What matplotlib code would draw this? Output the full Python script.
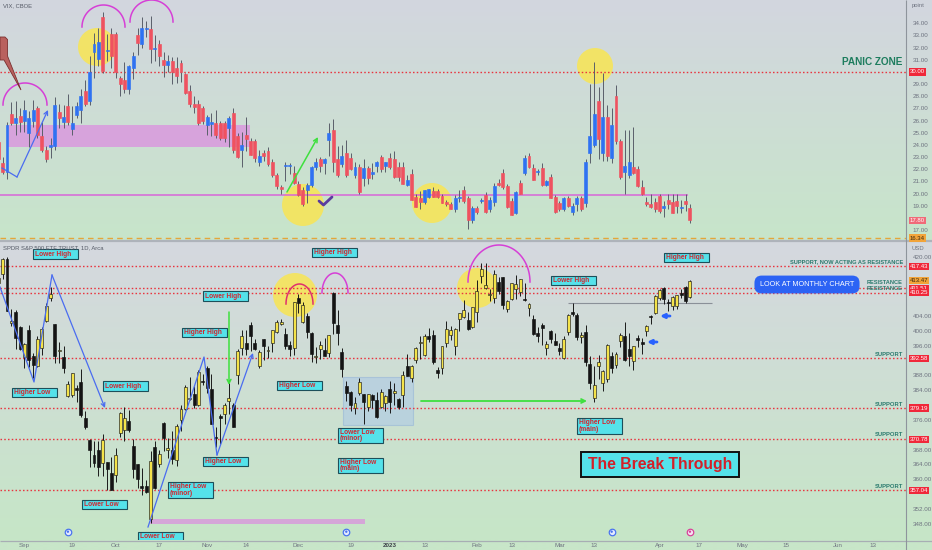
import numpy as np
import pandas as pd
import matplotlib
matplotlib.use("Agg")
import matplotlib.pyplot as plt
from matplotlib.patches import Ellipse, Rectangle, Polygon
from matplotlib.ticker import FormatStrFormatter
from matplotlib.colors import to_rgb

plt.rcParams['font.family'] = ['Liberation Sans', 'DejaVu Sans']

# ---------------- data ----------------
holidays = ["2022-09-05", "2022-11-24", "2022-12-26", "2023-01-02", "2023-01-16",
            "2023-02-20", "2023-04-07", "2023-05-29", "2023-06-19"]
first_day = "2022-08-24"
axis_end = "2023-06-30"

spy_open = [413.0, 415.2, 419.4, 402.2, 405.1, 401.1, 392.9, 400.3, 393.1, 390.4,
            395.4, 402.7, 408.8, 401.8, 394.5, 392.9, 382.3, 382.8, 384.7, 386.1,
            376.6, 370.6, 366.4, 367.8, 364.4, 364.5, 361.8, 361.1, 372.4, 373.2,
            375.6, 369.0, 364.0, 358.2, 358.2, 349.2, 368.6, 364.0, 375.1, 367.8,
            368.0, 365.1, 375.9, 378.8, 381.6, 383.1, 379.9, 386.4, 390.1, 384.4,
            371.5, 377.1, 377.7, 381.1, 379.9, 388.0, 395.4, 396.7, 401.5, 396.8,
            390.5, 397.7, 394.6, 396.6, 399.6, 401.8, 399.1, 396.1, 395.5, 408.8,
            402.3, 404.0, 399.4, 392.9, 395.1, 394.9, 394.1, 410.2, 401.6, 394.3,
            385.2, 383.5, 379.2, 383.3, 383.0, 379.6, 382.8, 381.3, 379.6, 380.6,
            384.4, 383.2, 381.7, 382.6, 390.4, 387.3, 392.2, 396.7, 393.6, 398.5,
            399.0, 389.4, 390.1, 396.7, 398.9, 396.0, 403.1, 403.7, 402.8, 401.1,
            405.2, 414.9, 411.6, 409.8, 408.9, 413.1, 414.4, 405.9, 408.7, 411.2,
            410.4, 408.7, 406.1, 403.1, 399.5, 401.6, 395.4, 399.9, 397.2, 395.4,
            392.7, 399.7, 405.1, 404.4, 398.4, 399.7, 391.0, 381.8, 390.5, 385.9,
            387.1, 393.2, 390.8, 397.2, 398.7, 395.1, 391.8, 398.1, 397.0, 399.9,
            404.1, 404.7, 408.9, 411.6, 407.9, 406.8, 406.6, 410.3, 411.9, 409.2]
spy_high = [415.9, 419.6, 419.9, 405.8, 405.6, 401.4, 396.8, 401.6, 394.1, 398.6,
            401.0, 407.5, 411.7, 401.9, 396.9, 395.9, 386.4, 388.6, 385.3, 389.6,
            378.3, 370.9, 370.2, 370.4, 372.3, 364.6, 365.9, 368.5, 378.0, 379.5,
            378.7, 370.9, 364.2, 363.0, 359.8, 367.5, 370.3, 368.0, 375.5, 371.2,
            373.0, 374.8, 380.1, 385.3, 387.6, 385.0, 389.5, 388.4, 390.4, 388.3,
            374.2, 377.7, 380.6, 386.7, 380.6, 395.0, 400.2, 400.1, 402.3, 397.8,
            394.9, 397.8, 395.8, 400.2, 402.9, 403.1, 400.8, 397.3, 407.7, 410.0,
            407.9, 404.9, 399.7, 395.6, 397.4, 398.0, 399.0, 410.5, 405.5, 395.3,
            386.6, 383.8, 382.2, 387.4, 383.1, 383.0, 383.1, 383.4, 384.4, 382.6,
            386.4, 385.9, 381.8, 389.3, 393.7, 390.7, 395.6, 398.5, 399.1, 400.8,
            400.1, 390.3, 396.0, 402.6, 401.2, 400.7, 404.9, 408.2, 405.1, 406.5,
            413.7, 418.3, 418.2, 411.3, 416.5, 414.5, 414.6, 408.4, 413.0, 415.1,
            414.1, 412.9, 407.5, 404.2, 401.1, 402.2, 397.3, 400.3, 399.3, 396.7,
            398.7, 404.5, 407.5, 404.7, 399.7, 401.5, 393.2, 390.4, 393.5, 389.5,
            396.5, 394.4, 394.2, 399.4, 402.5, 399.3, 395.8, 398.9, 398.1, 401.6,
            404.4, 409.7, 411.3, 411.9, 408.7, 409.5, 409.7, 411.2, 412.2, 413.8]
spy_low = [412.4, 414.1, 405.3, 401.2, 395.0, 394.9, 390.0, 390.3, 387.4, 390.2,
           393.6, 402.5, 408.1, 391.4, 391.4, 388.7, 382.1, 382.2, 380.7, 376.8,
           373.4, 363.3, 363.3, 360.9, 360.9, 357.2, 357.0, 359.2, 371.3, 370.2,
           372.8, 360.4, 357.7, 355.7, 356.4, 348.1, 357.3, 363.4, 367.5, 365.6,
           364.2, 363.5, 373.1, 378.7, 381.4, 379.3, 379.7, 385.3, 383.3, 374.8,
           368.8, 369.4, 375.0, 377.7, 374.0, 385.6, 393.4, 393.4, 394.5, 394.8,
           390.1, 392.2, 392.7, 394.2, 399.3, 401.5, 395.1, 393.3, 393.5, 404.8,
           402.0, 398.0, 391.6, 391.4, 392.5, 393.1, 392.9, 399.1, 396.3, 387.6,
           381.0, 378.3, 377.7, 382.7, 374.9, 378.4, 379.3, 376.4, 379.1, 378.4,
           377.8, 380.0, 378.8, 379.4, 387.7, 386.3, 391.4, 392.4, 393.3, 397.1,
           391.1, 387.3, 388.4, 395.7, 397.6, 393.6, 400.0, 403.4, 400.3, 400.8,
           402.3, 412.9, 411.2, 408.1, 407.6, 409.9, 405.8, 405.0, 408.2, 408.5,
           409.5, 408.1, 404.0, 399.0, 397.0, 396.3, 393.6, 396.8, 396.2, 393.4,
           392.3, 399.0, 404.0, 397.6, 396.8, 390.6, 384.3, 380.7, 387.1, 383.7,
           386.3, 388.6, 390.1, 395.6, 392.0, 390.4, 389.4, 395.6, 393.7, 398.7,
           401.8, 404.6, 408.4, 407.2, 405.4, 405.7, 405.9, 408.9, 407.4, 408.9]
spy_close = [414.2, 419.5, 405.3, 402.6, 398.2, 395.2, 396.4, 392.2, 390.8, 397.8,
             400.4, 406.6, 410.0, 393.1, 394.6, 389.9, 385.6, 388.6, 384.1, 377.4,
             374.2, 367.9, 364.3, 363.4, 370.5, 362.8, 357.2, 366.6, 377.8, 376.4,
             373.2, 362.8, 360.0, 357.7, 356.6, 365.0, 357.6, 366.8, 371.1, 368.5,
             365.4, 374.3, 378.9, 384.9, 382.0, 380.0, 389.0, 386.2, 384.5, 374.9,
             371.0, 376.4, 380.0, 382.0, 374.1, 394.7, 398.5, 395.1, 398.5, 395.2,
             394.2, 396.0, 394.6, 400.2, 402.4, 402.3, 395.9, 395.2, 407.7, 407.4,
             406.9, 399.6, 393.8, 393.2, 396.2, 393.3, 399.0, 402.0, 399.4, 389.6,
             383.3, 380.0, 380.5, 386.2, 380.7, 382.9, 381.4, 376.7, 383.4, 382.4,
             380.8, 383.8, 379.4, 388.1, 387.9, 390.6, 395.5, 397.0, 398.5, 397.8,
             391.5, 388.6, 395.9, 400.6, 400.2, 400.4, 404.8, 405.7, 400.6, 406.5,
             410.8, 416.8, 412.4, 409.8, 415.2, 410.7, 407.1, 408.0, 412.8, 412.6,
             414.0, 408.3, 407.3, 399.1, 398.5, 400.7, 396.4, 397.7, 396.3, 394.7,
             397.8, 404.2, 404.5, 398.3, 398.9, 391.6, 385.9, 385.4, 391.7, 389.3,
             396.1, 390.0, 393.7, 398.9, 392.1, 393.2, 395.8, 397.5, 396.5, 401.4,
             403.7, 409.4, 411.0, 408.7, 407.6, 409.2, 409.6, 409.7, 408.1, 413.5]

vix_open = [24.2, 22.5, 21.8, 26.5, 25.8, 26.4, 26.0, 25.0, 26.0, 27.0,
            24.7, 23.6, 23.8, 23.9, 26.7, 25.9, 27.2, 25.3, 26.5, 26.9,
            28.4, 27.6, 31.6, 31.1, 34.5, 31.7, 33.1, 33.1, 29.5, 29.3,
            28.6, 30.3, 33.0, 32.3, 33.5, 33.5, 31.9, 32.3, 31.0, 30.6,
            30.9, 30.3, 30.7, 29.8, 28.4, 27.4, 27.4, 27.0, 25.6, 25.7,
            25.8, 25.8, 25.8, 25.4, 26.6, 24.7, 23.6, 24.8, 24.3, 24.3,
            22.6, 23.3, 23.5, 22.6, 21.5, 20.5, 22.3, 22.3, 21.7, 20.8,
            20.3, 20.3, 20.7, 22.2, 22.8, 22.5, 24.4, 25.2, 22.8, 22.4,
            23.3, 22.9, 21.5, 22.2, 21.3, 22.1, 21.6, 22.3, 23.0, 22.3,
            22.9, 22.8, 22.2, 22.2, 20.7, 21.6, 19.7, 19.6, 19.3, 19.7,
            20.2, 20.2, 19.8, 19.3, 19.1, 18.7, 19.6, 20.3, 19.6, 17.8,
            18.8, 19.4, 19.9, 18.7, 19.3, 20.9, 21.7, 20.6, 19.4, 18.4,
            20.9, 21.7, 23.1, 22.1, 21.8, 22.1, 20.7, 21.4, 19.7, 19.2,
            18.7, 19.6, 18.5, 19.1, 19.6, 19.2, 23.3, 24.0, 27.6, 23.3,
            26.3, 22.9, 28.0, 24.3, 21.8, 21.5, 22.2, 22.0, 20.5, 19.3,
            19.1, 19.3, 19.8, 18.8, 19.5, 19.3, 19.4, 18.8, 19.4, 18.8]
vix_high = [24.6, 23.0, 25.9, 27.5, 27.6, 27.0, 27.7, 26.8, 27.7, 27.2,
            25.9, 23.9, 24.6, 27.9, 27.4, 27.3, 28.2, 27.2, 27.5, 28.6,
            29.3, 31.3, 33.2, 33.6, 34.9, 33.1, 33.6, 33.3, 29.7, 30.8,
            30.6, 31.6, 33.6, 34.5, 34.2, 34.6, 33.0, 32.6, 31.6, 31.4,
            31.2, 31.2, 31.0, 29.9, 28.9, 28.0, 27.7, 27.2, 26.5, 26.6,
            26.9, 26.0, 26.0, 26.4, 27.0, 25.0, 25.1, 26.3, 24.6, 24.5,
            23.6, 23.6, 23.8, 22.8, 21.7, 20.7, 22.6, 22.5, 22.3, 21.0,
            20.5, 20.9, 22.3, 22.9, 23.0, 22.9, 25.8, 26.1, 23.9, 24.0,
            24.4, 23.3, 22.6, 22.4, 22.8, 22.3, 22.5, 22.7, 23.2, 22.6,
            23.3, 23.5, 22.6, 22.6, 21.5, 22.0, 20.0, 20.2, 20.3, 20.4,
            20.5, 20.4, 20.0, 19.5, 19.3, 19.9, 20.3, 20.6, 19.8, 19.0,
            19.0, 19.6, 20.1, 19.7, 20.9, 21.2, 22.0, 20.8, 19.6, 20.2,
            21.1, 23.2, 23.3, 22.4, 22.0, 22.5, 21.1, 21.6, 19.9, 19.4,
            19.7, 19.8, 19.2, 19.8, 19.8, 22.8, 29.0, 30.8, 28.8, 29.9,
            27.3, 27.0, 28.9, 24.5, 25.2, 25.2, 25.5, 22.3, 21.1, 19.7,
            20.0, 19.6, 20.0, 19.4, 20.0, 20.0, 20.0, 19.5, 20.0, 19.1]
vix_low = [22.6, 21.6, 21.2, 25.6, 24.8, 25.1, 25.1, 23.8, 25.5, 24.6,
           23.4, 22.6, 22.9, 23.6, 25.4, 25.4, 25.6, 24.8, 26.2, 25.8,
           27.2, 27.3, 29.5, 30.5, 29.9, 30.9, 30.3, 29.5, 28.0, 28.3,
           28.2, 29.4, 31.4, 32.0, 32.9, 30.7, 30.9, 30.5, 29.6, 30.0,
           29.0, 29.1, 29.2, 28.2, 27.1, 26.6, 25.6, 25.7, 24.8, 24.7,
           24.6, 24.4, 24.2, 23.8, 23.3, 22.9, 22.2, 23.5, 23.2, 22.6,
           22.3, 22.7, 22.3, 21.4, 20.4, 20.0, 21.0, 21.6, 20.8, 19.8,
           19.0, 19.2, 20.5, 21.9, 21.8, 21.6, 23.1, 21.8, 21.4, 22.2,
           21.4, 21.9, 21.3, 20.0, 20.6, 20.8, 21.2, 21.8, 21.8, 21.8,
           22.0, 21.3, 21.0, 20.8, 20.6, 19.5, 18.9, 18.7, 19.1, 19.6,
           19.7, 19.6, 19.2, 19.0, 18.7, 18.5, 19.3, 19.2, 17.1, 17.6,
           18.3, 19.2, 18.4, 18.5, 19.0, 20.6, 20.4, 18.8, 18.2, 18.3,
           20.0, 21.5, 22.1, 21.1, 21.5, 20.6, 20.6, 19.6, 18.4, 18.6,
           18.6, 18.9, 18.2, 18.6, 18.6, 18.9, 22.5, 23.8, 22.8, 22.7,
           22.7, 22.5, 24.1, 21.2, 20.0, 21.3, 21.6, 20.5, 19.9, 19.0,
           18.8, 18.5, 18.4, 18.1, 18.7, 18.4, 18.4, 18.4, 18.6, 17.6]
vix_close = [22.8, 21.8, 25.6, 25.8, 26.2, 25.9, 26.9, 26.2, 26.9, 24.8,
             23.6, 22.8, 24.0, 27.3, 26.2, 26.3, 25.9, 25.8, 27.2, 28.0,
             27.4, 30.0, 32.3, 32.5, 30.1, 31.8, 31.3, 30.0, 29.0, 28.6,
             30.5, 31.3, 32.4, 33.6, 33.6, 31.9, 32.0, 31.3, 30.6, 30.9,
             30.0, 29.7, 30.0, 28.3, 27.4, 27.1, 25.8, 26.0, 26.3, 25.9,
             24.8, 24.6, 24.6, 26.2, 23.6, 23.0, 24.0, 24.5, 23.2, 22.9,
             23.1, 23.1, 22.4, 21.5, 20.6, 20.4, 22.3, 22.3, 20.9, 19.9,
             19.1, 20.7, 22.2, 22.6, 22.3, 22.8, 25.0, 22.6, 21.5, 23.1,
             21.5, 22.0, 22.2, 20.1, 22.1, 21.3, 21.8, 22.6, 22.0, 22.6,
             22.2, 21.4, 21.4, 20.8, 21.1, 19.5, 18.9, 19.3, 20.3, 20.4,
             19.7, 19.7, 19.2, 19.1, 18.7, 19.6, 19.7, 19.4, 17.8, 18.8,
             18.5, 19.5, 18.5, 19.5, 20.6, 20.7, 20.5, 18.9, 18.2, 20.1,
             20.0, 22.9, 22.2, 21.1, 21.8, 20.7, 21.0, 19.6, 18.5, 18.7,
             19.6, 19.0, 19.0, 19.6, 18.7, 22.6, 24.7, 26.5, 24.5, 26.3,
             23.1, 25.6, 24.3, 21.4, 22.3, 22.6, 21.7, 20.6, 20.0, 19.1,
             18.9, 18.7, 18.6, 19.0, 19.1, 18.4, 19.0, 18.8, 19.1, 17.8]

spy_levels = [417.43, 411.51, 410.25, 392.58, 379.19, 370.78, 357.04]
spy_last = 413.47
vix_panic = 30.00
vix_last = 17.80
vix_alert = 16.34
vix_zone = (23.8, 25.6)
vix_support = 19.88

tick_dates = ["2022-09-01", "2022-09-19", "2022-10-03", "2022-10-17", "2022-11-01",
              "2022-11-14", "2022-12-01", "2022-12-19", "2023-01-03", "2023-01-13",
              "2023-02-01", "2023-02-13", "2023-03-01", "2023-03-13", "2023-04-03",
              "2023-04-17", "2023-05-01", "2023-05-15", "2023-06-01", "2023-06-13"]
tick_labels = ["Sep", "19", "Oct", "17", "Nov", "14", "Dec", "19", "2023", "13",
               "Feb", "13", "Mar", "13", "Apr", "17", "May", "15", "Jun", "13"]
div_dates = ["2022-09-16", "2022-12-16", "2023-03-17"]
event_dates = ["2023-04-13"]

# ---------------- calendar ----------------
cal = pd.bdate_range(first_day, axis_end)
cal = cal[~cal.isin(pd.to_datetime(holidays))]
pos = {d: i for i, d in enumerate(cal)}
def dpos(s):
    return pos[pd.Timestamp(s)]

# ---------------- figure / layout ----------------
W, H = 932, 550
PW = 906
fig = plt.figure(figsize=(W / 100, H / 100), dpi=100)

ax_bg = fig.add_axes([0, 0, 1, 1], zorder=0)
def grad(c0, c1, y0, y1):
    a = np.array(to_rgb(c0)); b = np.array(to_rgb(c1))
    t = np.linspace(0, 1, 256)[:, None, None]
    img = a + (b - a) * t
    ax_bg.imshow(img, extent=[0, W, y1, y0], aspect='auto', interpolation='bilinear')
grad('#d3d6df', '#c7e5ca', 0, 240)
grad('#d5d8df', '#c6e6c7', 242, 540)
grad('#c8e6c9', '#c8e6c9', 540, 550)
ax_bg.hlines(241, 0, W, color='#aeb3ba', lw=1.6)
ax_bg.hlines(540.5, 0, W, color='#a8aeb4', lw=0.9)
ax_bg.vlines(PW, 0, H, color='#8e949c', lw=0.8)
ax_bg.set_xlim(0, W); ax_bg.set_ylim(H, 0); ax_bg.axis('off')

ax1 = fig.add_axes([0, 1 - 240 / H, PW / W, 240 / H], zorder=2)
ax2 = fig.add_axes([0, 10 / H, PW / W, 298 / H], zorder=2)

K = 4.35
X0 = 0.39
def ix(p): return X0 + p / K
def vy(p): return 34 - (p - 23.3) / 12.16
def sy(p): return 420 - (p - 256.7) / 3.708

for ax in (ax1, ax2):
    ax.patch.set_alpha(0)
    for s in ax.spines.values():
        s.set_visible(False)
    ax.set_xlim(ix(0), ix(PW))
ax1.set_ylim(vy(240), vy(0))
ax2.set_ylim(sy(540), sy(242))

# ---------------- candles ----------------
def candles(ax, o, h, l, c, upc, dnc, upe, dne, wick, minh):
    o, h, l, c = (np.asarray(v, float) for v in (o, h, l, c))
    x = np.arange(len(o))
    up = c >= o
    ax.vlines(x, l, h, color=wick, lw=0.7, zorder=4)
    bot = np.minimum(o, c)
    hgt = np.maximum(np.abs(c - o), minh)
    ax.bar(x[up], hgt[up], bottom=bot[up], width=0.68, color=upc, edgecolor=upe, lw=0.45, zorder=5)
    ax.bar(x[~up], hgt[~up], bottom=bot[~up], width=0.68, color=dnc, edgecolor=dne, lw=0.45, zorder=5)

candles(ax1, vix_open, vix_high, vix_low, vix_close, '#2f72f2', '#ef5260', '#2f72f2', '#ef5260', '#5a5f6a', 0.07)
candles(ax2, spy_open, spy_high, spy_low, spy_close, '#f4e34a', '#141414', '#1a1a1a', '#141414', '#1a1a1a', 0.25)

# ---------------- axes ticks ----------------
def free_ticks(cands, labels, gap):
    return [t for t in cands if all(abs(t - v) > gap for v in labels)]

vix_ticks = free_ticks(np.arange(17, 35), [vix_panic, vix_last, vix_alert], 0.6)
spy_ticks = free_ticks(np.arange(348, 421, 4), spy_levels + [spy_last], 2.3)

for ax in (ax1, ax2):
    ax.yaxis.tick_right()
    ax.yaxis.set_major_formatter(FormatStrFormatter('%.2f'))
    ax.tick_params(axis='y', length=0, pad=5, labelsize=4.5, labelcolor='#6e7380')
ax1.set_yticks(vix_ticks)
ax2.set_yticks(spy_ticks)
ax1.set_xticks([])
ax2.set_xticks([dpos(d) for d in tick_dates])
ax2.set_xticklabels(tick_labels)
ax2.tick_params(axis='x', length=0, pad=2.2, labelsize=4.5, labelcolor='#6e7380')
for t in ax2.get_xticklabels():
    if t.get_text() == '2023':
        t.set_fontweight('bold'); t.set_color('#3c4048')

def plabel(ax, val, txt, fc, tc='white'):
    ax.annotate(txt, xy=(1, val), xycoords=ax.get_yaxis_transform(), xytext=(2.6, 0),
                textcoords='offset points', ha='left', va='center', fontsize=4.3, color=tc,
                bbox=dict(boxstyle='square,pad=0.18', fc=fc, ec='none'),
                annotation_clip=False, zorder=30)

plabel(ax1, vix_panic, '%.2f' % vix_panic, '#f0283a')
plabel(ax1, vix_last, '%.2f' % vix_last, '#f06a78')
plabel(ax1, vix_alert, '%.2f' % vix_alert, '#f2a43a', '#3a2a10')
for lv in spy_levels:
    plabel(ax2, lv, '%.2f' % lv, '#f0283a')
plabel(ax2, spy_last, '%.2f' % spy_last, '#f2a43a', '#3a2a10')

fig.text(912 / W, 1 - 5 / H, 'point', fontsize=4.2, color='#6e7380', va='center')
fig.text(912 / W, 1 - 248 / H, 'USD', fontsize=4.2, color='#6e7380', va='center')
fig.text(3 / W, 1 - 6 / H, 'VIX, CBOE', fontsize=4.2, color='#555a66', va='center')
fig.text(3 / W, 1 - 248 / H, 'SPDR S&P 500 ETF TRUST, 1D, Arca', fontsize=4.2,
         color='#555a66', va='center', zorder=10)

# ---------------- top panel drawings ----------------
ax1.axhline(vix_panic, color='#e8343f', ls=(0, (1.1, 1.6)), lw=1.0, zorder=3)
ax1.axhline(vix_alert, color='#e4a63a', ls=(0, (4, 3)), lw=1.0, zorder=3)
ax1.hlines(vix_support, ix(0), ix(688), color='#d865d8', lw=1.1, zorder=3)
ax1.add_patch(Rectangle((ix(7), vix_zone[0]), ix(250) - ix(7), vix_zone[1] - vix_zone[0],
                        fc='#d7a3dc', ec='none', zorder=1))

def circ(ax, cx, cy, r, conv, sc):
    ax.add_patch(Ellipse((ix(cx), conv(cy)), 2 * r / K, 2 * r / sc, fc='#f6e55a',
                         ec='none', alpha=0.9, zorder=2))
for cx, cy, r in [(97, 47, 19), (303, 205, 21), (432, 203, 20), (595, 66, 18)]:
    circ(ax1, cx, cy, r, vy, 12.16)

def arc(ax, x0, x1, yb, yp, conv, col):
    t = np.linspace(0, np.pi, 60)
    xs = (x0 + x1) / 2 - (x1 - x0) / 2 * np.cos(t)
    ys = yb - (yb - yp) * np.sin(t)
    ax.plot([ix(v) for v in xs], [conv(v) for v in ys], color=col, lw=1.1, zorder=6)
arc(ax1, 3, 47, 105, 83, vy, '#d63fd6')
arc(ax1, 82, 125, 27, 5, vy, '#d63fd6')
arc(ax1, 130, 173, 22, 0, vy, '#d63fd6')

def zigzag(ax, pts, conv, col, lw=0.9):
    xs = [ix(p[0]) for p in pts]; ys = [conv(p[1]) for p in pts]
    ax.plot(xs[:-1], ys[:-1], color=col, lw=lw, zorder=6)
    ax.annotate('', xy=(xs[-1], ys[-1]), xytext=(xs[-2], ys[-2]),
                arrowprops=dict(arrowstyle='->', color=col, lw=lw, mutation_scale=7,
                                shrinkA=0, shrinkB=0), zorder=6)

zigzag(ax1, [(2, 168), (17, 177), (48, 110)], vy, '#4a6cf0')
zigzag(ax1, [(287, 192), (318, 137)], vy, '#3ee03e', 1.1)
ax1.plot([ix(319), ix(323.5), ix(332)], [vy(201), vy(205), vy(197)], color='#5a3c9e',
         lw=2.0, solid_capstyle='round', zorder=7)
callout = [(0, 37), (5, 37), (7.5, 39.5), (7.5, 56), (21, 90), (4, 60), (0, 60)]
ax1.add_patch(Polygon([(ix(a), vy(b)) for a, b in callout], closed=True, fc='#b9615e',
                      ec='#7a2f2f', lw=0.6, zorder=7))
ax1.text(ix(902), vy(62), 'PANIC ZONE', ha='right', va='center', fontsize=7.2,
         fontweight='bold', color='#1d7d5e', zorder=8)

# ---------------- bottom panel drawings ----------------
for lv in spy_levels:
    ax2.axhline(lv, color='#e8343f', ls=(0, (1.1, 1.6)), lw=1.0, zorder=3)

for cx, cy, r in [(295, 295, 22), (477, 288, 20)]:
    circ(ax2, cx, cy, r, sy, 3.708)
arc(ax2, 286, 313, 304, 284, sy, '#e0306e')
arc(ax2, 322, 348, 293, 273, sy, '#d63fd6')
arc(ax2, 468, 530, 282, 245, sy, '#d63fd6')

zigzag(ax2, [(0, 287), (34, 382), (52, 275), (105, 408)], sy, '#4a6cf0')
zigzag(ax2, [(148, 527), (204, 357), (217, 455), (253, 353)], sy, '#4a6cf0')
zigzag(ax2, [(229, 312), (229, 385)], sy, '#3ee03e', 1.1)
zigzag(ax2, [(421, 401), (587, 401)], sy, '#3ee03e', 1.3)

ax2.add_patch(Rectangle((ix(343), sy(425)), (413 - 343) / K, sy(377) - sy(425),
                        fc='#a8c6ea', ec='#8fb0d8', lw=0.8, alpha=0.5, zorder=2))
ax2.add_patch(Rectangle((ix(150), sy(524)), (365 - 150) / K, sy(519) - sy(524),
                        fc='#d5a6d8', ec='none', zorder=2))
ax2.hlines(sy(303), ix(568), ix(712), color='#8a9098', lw=0.8, zorder=3)
for tip, tail, yy in [(660, 670, 316), (647, 657, 342)]:
    ax2.annotate('', xy=(ix(tip), sy(yy)), xytext=(ix(tail), sy(yy)),
                 arrowprops=dict(arrowstyle='-|>', color='#2962ff', lw=2.0,
                                 mutation_scale=6, shrinkA=0, shrinkB=0), zorder=8)

tags = [(33, 249, 78, 259, "Lower High"), (312, 248, 357, 257, "Higher High"),
        (203, 291, 248, 301, "Lower High"), (182, 328, 227, 337, "Higher High"),
        (12, 388, 57, 397, "Higher Low"), (103, 381, 148, 391, "Lower High"),
        (277, 381, 322, 390, "Higher Low"), (203, 457, 248, 466, "Higher Low"),
        (338, 428, 383, 443, "Lower Low\n(minor)"), (338, 458, 383, 473, "Higher Low\n(main)"),
        (168, 482, 213, 498, "Higher Low\n(minor)"), (82, 500, 127, 509, "Lower Low"),
        (138, 532, 183, 542, "Lower Low"), (664, 253, 709, 262, "Higher High"),
        (551, 276, 596, 285, "Lower High"), (577, 418, 622, 434, "Higher Low\n(main)")]
for x0, y0, x1, y1, txt in tags:
    ax2.add_patch(Rectangle((ix(x0), sy(y1)), (x1 - x0) / K, sy(y0) - sy(y1),
                            fc='#55e2ea', ec='#1d4f5a', lw=0.8, zorder=9))
    ax2.text(ix(x0 + 2), (sy(y0) + sy(y1)) / 2, txt, ha='left', va='center', fontsize=4.8,
             fontweight='bold', color='#d2262f', linespacing=0.95, zorder=10)

ax2.add_patch(Rectangle((ix(581), sy(477)), (739 - 581) / K, sy(452) - sy(477),
                        fc='#55e2ea', ec='#111111', lw=1.4, zorder=9))
ax2.text(ix(660), sy(464.5), 'The Break Through', ha='center', va='center', fontsize=11.3,
         fontweight='bold', color='#d41f28', zorder=10)

ax2.text(ix(807), sy(284.5), 'LOOK AT MONTHLY CHART', ha='center', va='center', fontsize=5.2,
         color='white', zorder=10,
         bbox=dict(boxstyle='round,pad=0.75,rounding_size=1.0', fc='#2c63f4', ec='none'))

rcol = '#2b7b6e'
ax2.text(ix(903), sy(262), 'SUPPORT, NOW ACTING AS RESISTANCE', ha='right', va='center',
         fontsize=4.1, fontweight='bold', color=rcol, zorder=8)
ax2.text(ix(903), sy(283.0), 'RESISTANCE', ha='right', va='center', fontsize=4.1,
         fontweight='bold', color=rcol, zorder=8)
ax2.text(ix(903), sy(288.6), 'RESISTANCE', ha='right', va='center', fontsize=4.1,
         fontweight='bold', color=rcol, zorder=8)
for yy in (354.3, 404.3, 435, 486.5):
    ax2.text(ix(903), sy(yy), 'SUPPORT', ha='right', va='center', fontsize=4.2,
             fontweight='bold', color=rcol, zorder=8)

tr = ax2.get_xaxis_transform()
ax2.scatter([dpos(d) for d in div_dates], [0.028] * len(div_dates), transform=tr, s=22,
            fc='#e4ebff', ec='#4a74f0', lw=0.9, zorder=12, clip_on=False)
ax2.scatter([dpos(d) for d in div_dates], [0.028] * len(div_dates), transform=tr, s=3,
            fc='#4a74f0', ec='none', zorder=13, clip_on=False)
ax2.scatter([dpos(d) for d in event_dates], [0.028] * len(event_dates), transform=tr, s=22,
            fc='#f6e4f2', ec='#d8429a', lw=0.9, zorder=12, clip_on=False)
ax2.scatter([dpos(d) for d in event_dates], [0.028] * len(event_dates), transform=tr, s=3,
            fc='#d8429a', ec='none', zorder=13, clip_on=False)

fig.savefig('out.png', dpi=100)
